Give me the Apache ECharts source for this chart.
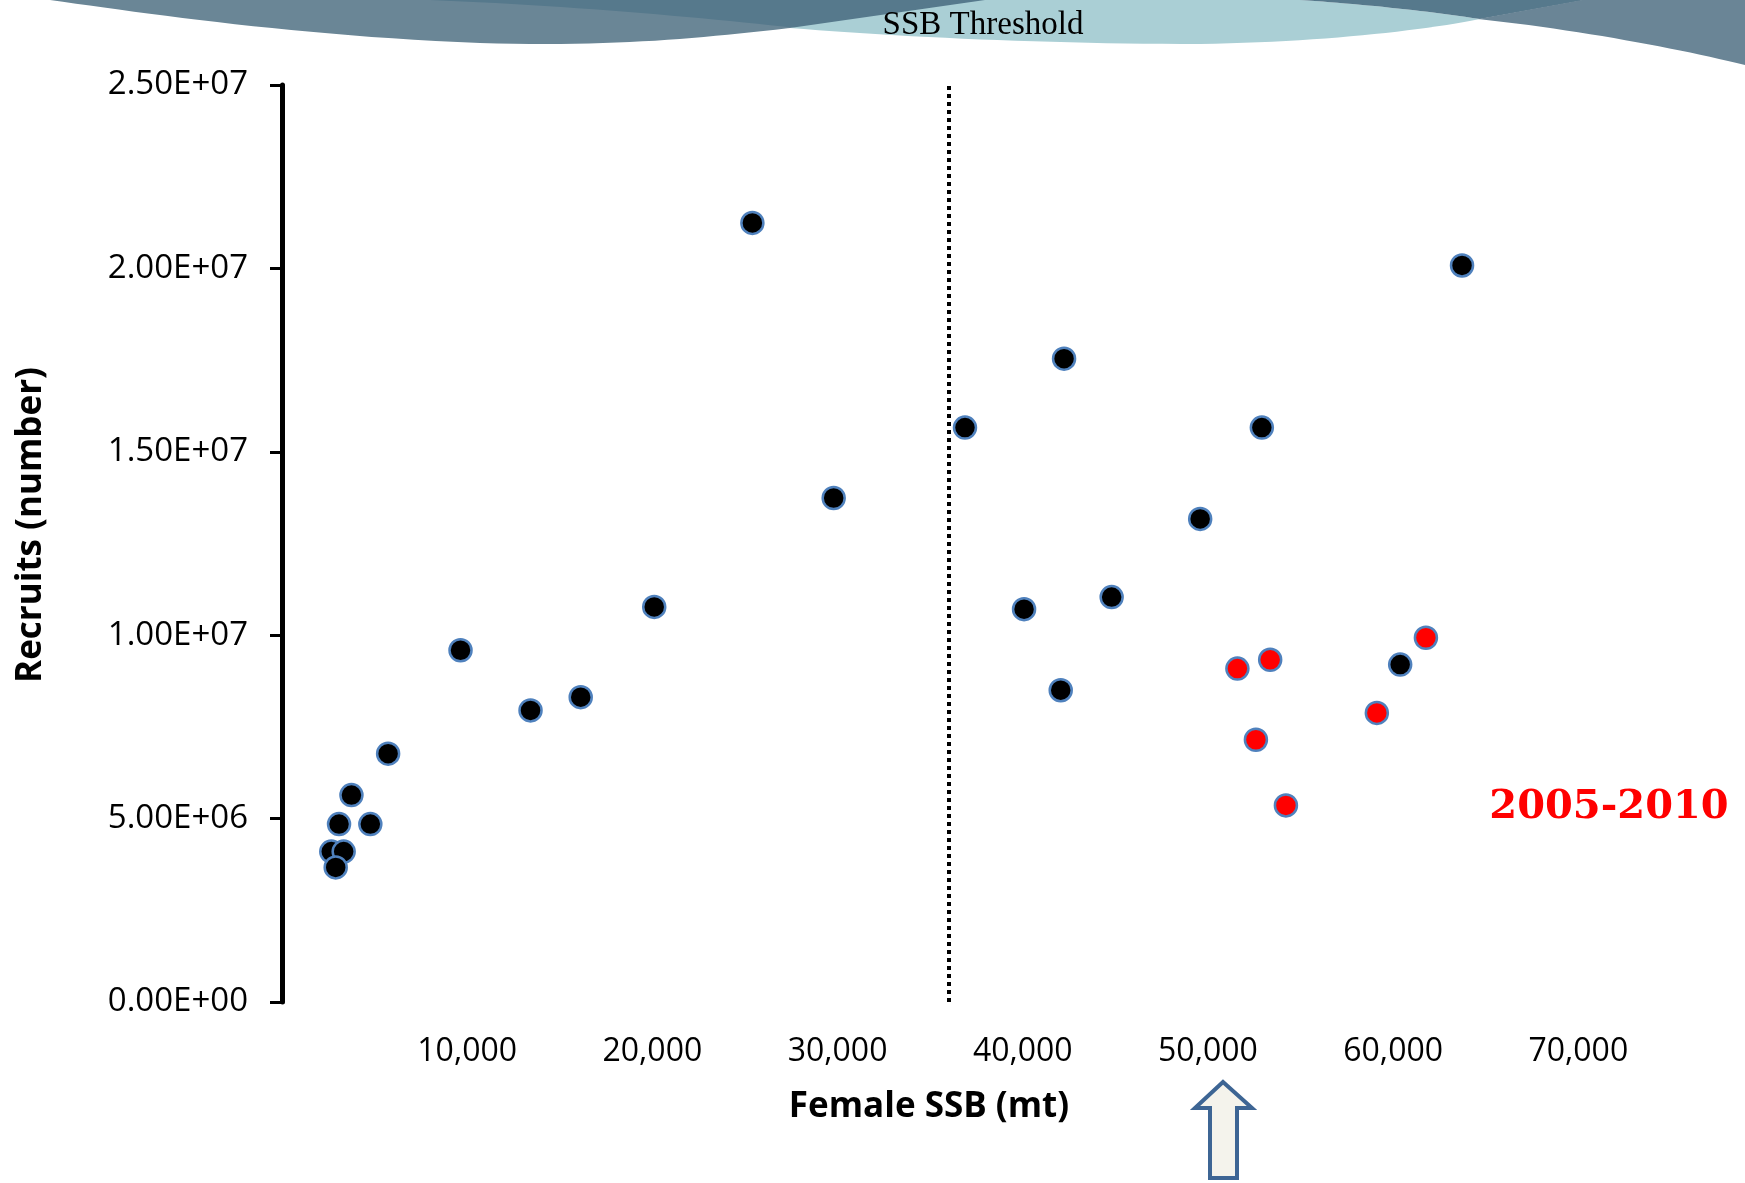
<!DOCTYPE html>
<html>
<head>
<meta charset="utf-8">
<script src="https://cdn.jsdelivr.net/npm/echarts@6/dist/echarts.min.js"></script>
<style>
html,body{margin:0;padding:0;background:#fff;}
#chart{width:1745px;height:1183px;}
</style>
</head>
<body>
<div id="chart"></div>
<script>
// ---- data ----
const blackSSB = [2660, 3330, 2900, 3080, 3750, 4770, 5730, 9640, 13420, 16130, 20100, 25400, 29790, 36880, 40070, 42230, 42050, 44800, 49580, 52910, 60380, 63720];
const blackRecruits = [4.10e6, 4.10e6, 3.67e6, 4.85e6, 5.64e6, 4.85e6, 6.77e6, 9.59e6, 7.95e6, 8.31e6, 10.77e6, 21.24e6, 13.74e6, 15.66e6, 10.71e6, 17.54e6, 8.50e6, 11.04e6, 13.17e6, 15.66e6, 9.20e6, 20.08e6];
const redSSB = [51590, 53360, 52590, 54210, 59120, 61770];
const redRecruits = [9.09e6, 9.33e6, 7.15e6, 5.36e6, 7.88e6, 9.93e6];
const thresholdSSB = 36000;
const yTickLabels = ['0.00E+00', '5.00E+06', '1.00E+07', '1.50E+07', '2.00E+07', '2.50E+07'];
const xTickLabels = ['', '10,000', '20,000', '30,000', '40,000', '50,000', '60,000', '70,000'];
const yStep = 5e6;
const xStep = 10000;
const highlightLabel = '2005-2010';
const titleText = 'SSB Threshold';
const xTitle = 'Female SSB (mt)';
const yTitle = 'Recruits (number)';

const pair = (xs, ys) => xs.map((x, i) => [x, ys[i]]);

// sample a simple "M/L/C/Z" path string into polygon points (for the decorative banner)
function pathToPoints(d) {
  const tok = d.trim().split(/[\s,]+/);
  const pts = [];
  let i = 0, cur = [0, 0];
  while (i < tok.length) {
    const c = tok[i++];
    if (c === 'M' || c === 'L') {
      cur = [+tok[i++], +tok[i++]]; pts.push(cur);
    } else if (c === 'C') {
      const p1 = [+tok[i++], +tok[i++]], p2 = [+tok[i++], +tok[i++]], p3 = [+tok[i++], +tok[i++]];
      const p0 = cur;
      for (let k = 1; k <= 24; k++) {
        const t = k / 24, u = 1 - t;
        pts.push([
          u*u*u*p0[0] + 3*u*u*t*p1[0] + 3*u*t*t*p2[0] + t*t*t*p3[0],
          u*u*u*p0[1] + 3*u*u*t*p1[1] + 3*u*t*t*p2[1] + t*t*t*p3[1]
        ]);
      }
      cur = p3;
    }
  }
  return pts;
}
function wave(d, fill, z) {
  return {type: 'polygon', z: z, silent: true, shape: {points: pathToPoints(d)}, style: {fill: fill}};
}

const chart = echarts.init(document.getElementById('chart'), null, {renderer: 'canvas'});
const tickFont = '"Open Sans", "Noto Sans", sans-serif';

const option = {
  backgroundColor: '#ffffff',
  animation: false,
  grid: {left: 282, right: 0, top: 85, bottom: 181, containLabel: false},
  xAxis: {
    type: 'value', min: 0, max: 79000, interval: xStep,
    axisLine: {show: false}, axisTick: {show: false}, splitLine: {show: false},
    axisLabel: {
      show: true, margin: 34, color: '#000', fontFamily: tickFont, fontSize: 32,
      showMinLabel: false, showMaxLabel: false,
      formatter: v => { const i = Math.round(v / xStep); return (v % xStep === 0 && xTickLabels[i] !== undefined) ? xTickLabels[i] : ''; }
    }
  },
  yAxis: {
    type: 'value', min: 0, max: 2.5e7, interval: yStep,
    axisLine: {show: true, lineStyle: {color: '#000', width: 5}},
    axisTick: {show: true, length: 12, lineStyle: {color: '#000', width: 3}},
    splitLine: {show: false},
    axisLabel: {
      margin: 34, color: '#000', fontFamily: tickFont, fontSize: 33,
      formatter: v => yTickLabels[Math.round(v / yStep)] || ''
    }
  },
  series: [
    {
      type: 'scatter', name: 'all', data: pair(blackSSB, blackRecruits),
      symbol: 'circle', symbolSize: 22,
      itemStyle: {color: '#000000', borderColor: '#4f81bd', borderWidth: 2.5, opacity: 1},
      markLine: {
        silent: true, symbol: ['none', 'none'], label: {show: false},
        lineStyle: {color: '#000', width: 4, type: 'dotted'},
        data: [{xAxis: thresholdSSB}]
      },
      z: 3
    },
    {
      type: 'scatter', name: '2005-2010', data: pair(redSSB, redRecruits),
      symbol: 'circle', symbolSize: 22,
      itemStyle: {color: '#ff0000', borderColor: '#4f81bd', borderWidth: 2.5, opacity: 1},
      z: 4
    }
  ],
  graphic: [
    wave('M 50 0 C 150 14 300 36 480 43 C 620 47 700 38 800 27 L 1000 0 Z', '#6a8696', 1),
    wave('M 430 0 C 560 5 700 17 795 28 L 1000 0 Z', '#56798c', 2),
    wave('M 790 28 C 900 37 1050 44 1200 44 C 1320 42 1420 31 1480 19 C 1420 10 1360 4 1300 0 L 985 0 Z', '#aacfd5', 3),
    wave('M 1300 0 C 1360 4 1420 10 1480 19 L 1585 0 Z', '#56798c', 3),
    wave('M 1478 19 L 1582 0 L 1745 0 L 1745 65 C 1680 49 1580 30 1478 19 Z', '#6a8596', 3),
    {type: 'text', z: 5, x: 983, y: 25, style: {text: titleText, fill: '#000', font: '33px "Liberation Serif", "DejaVu Serif", serif', textAlign: 'center', textVerticalAlign: 'middle'}},
    {type: 'text', z: 5, x: 929, y: 1107, style: {text: xTitle, fill: '#000', font: 'bold 35px "Open Sans", sans-serif', textAlign: 'center', textVerticalAlign: 'middle'}},
    {type: 'text', z: 5, x: 31, y: 525, rotation: Math.PI / 2, style: {text: yTitle, fill: '#000', font: 'bold 35px "Open Sans", sans-serif', textAlign: 'center', textVerticalAlign: 'middle'}},
    {type: 'text', z: 5, x: 1609, y: 808, style: {text: highlightLabel, fill: '#ff0000', font: 'bold 40px "DejaVu Serif", serif', textAlign: 'center', textVerticalAlign: 'middle'}},
    {type: 'polygon', z: 5, shape: {points: [[1223, 1082], [1252, 1108], [1237, 1108], [1237, 1178], [1210, 1178], [1210, 1108], [1195, 1108]]},
     style: {fill: '#f4f3ec', stroke: '#3d6594', lineWidth: 4}}
  ]
};
chart.setOption(option);
</script>
</body>
</html>
